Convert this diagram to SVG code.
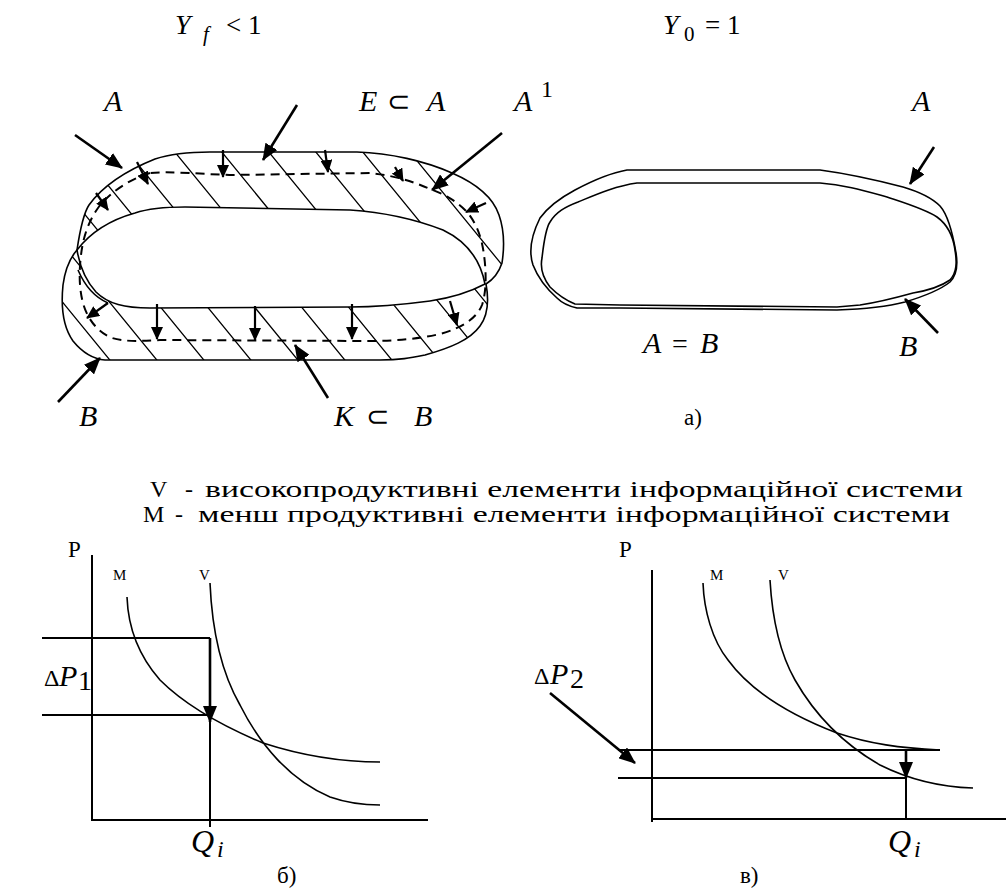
<svg xmlns="http://www.w3.org/2000/svg" width="1006" height="892" viewBox="0 0 1006 892" font-family="Liberation Serif, Times New Roman, serif">
<style>
.ln{fill:none;stroke:#000;stroke-width:1.6}
.th{fill:none;stroke:#000;stroke-width:1.3}
.ds{fill:none;stroke:#000;stroke-width:2;stroke-dasharray:9 6}
.ar{fill:none;stroke:#000;stroke-width:2.6;marker-end:url(#big)}
.sa{fill:none;stroke:#000;stroke-width:2.2;marker-end:url(#small)}
.ax{fill:none;stroke:#000;stroke-width:2}
text{font-family:'Liberation Serif',serif;fill:#000}
.i{font-style:italic}
</style>
<defs>
<marker id="big" markerUnits="userSpaceOnUse" markerWidth="18" markerHeight="14" refX="16" refY="7" orient="auto"><path d="M0,0 L17,7 L0,14 Z" fill="#000"/></marker>
<marker id="small" markerUnits="userSpaceOnUse" markerWidth="14" markerHeight="12" refX="12" refY="6" orient="auto"><path d="M0,0 L13,6 L0,12 Z" fill="#000"/></marker>
<clipPath id="band"><path clip-rule="evenodd" d="M77,250 C80,230 83,214 89,205 C102,187 125,171 155,159 C170,154 185,152 210,152 L357,152 C390,153 425,161 452,173 C475,183 493,197 499,215 C505,232 504,250 502,263 C499,272 494,279 486,284 C489,300 488,315 480,326 C470,340 450,348 425,355 C410,358 400,360 380,360 L105,360 C92,359 82,352 73,341 C63,327 61,305 63,285 C65,270 70,258 77,250 Z M77,250 C90,233 110,220 135,213 C150,208 165,207 185,207 L350,210 C380,212 412,218 443,230 C466,241 480,258 485,284 C468,293 450,298 430,301 C400,305 380,307 350,307 L150,308 C125,308 108,304 96,292 C86,281 80,268 77,250 Z"/></clipPath>
</defs>
<rect width="1006" height="892" fill="#fff"/>

<g id="titles">
<text class="i" x="175" y="34" font-size="28">Y</text>
<text class="i" x="203" y="41" font-size="21">f</text>
<text x="226" y="34" font-size="27">&lt; 1</text>
<text class="i" x="663" y="34" font-size="28">Y</text>
<text x="684" y="41" font-size="21">0</text>
<text x="705" y="34" font-size="27">= 1</text>
</g>

<g id="band-left">
<g clip-path="url(#band)">
<path class="th" d="M-70,140 L118,370 M-23,140 L165,370 M24,140 L212,370 M71,140 L259,370 M118,140 L306,370 M165,140 L353,370 M212,140 L400,370 M259,140 L447,370 M306,140 L494,370 M353,140 L541,370 M400,140 L588,370 M447,140 L635,370"/>
</g>
<path class="ln" d="M77,250 C80,230 83,214 89,205 C102,187 125,171 155,159 C170,154 185,152 210,152 L357,152 C390,153 425,161 452,173 C475,183 493,197 499,215 C505,232 504,250 502,263 C499,272 494,279 486,284 C489,300 488,315 480,326 C470,340 450,348 425,355 C410,358 400,360 380,360 L105,360 C92,359 82,352 73,341 C63,327 61,305 63,285 C65,270 70,258 77,250 Z"/>
<path class="ln" d="M77,250 C90,233 110,220 135,213 C150,208 165,207 185,207 L350,210 C380,212 412,218 443,230 C466,241 480,258 485,284 C468,293 450,298 430,301 C400,305 380,307 350,307 L150,308 C125,308 108,304 96,292 C86,281 80,268 77,250 Z"/>
<path class="ln" d="M78,270 C84,284 94,297 108,303"/>
<path class="ds" d="M150,173 C130,179 110,192 98,208 C88,222 83,238 81,255 C79,272 79,288 83,303 C87,318 97,332 112,338 C125,342 140,341 160,340 L370,341 C395,341 418,339 440,334 C462,328 477,318 482,305 C487,290 486,270 484,255 C482,240 478,226 468,213 C458,202 445,194 430,189 C410,180 390,175 370,173 L230,175 C200,174 170,171 150,173 Z"/>
</g>

<g id="band-labels">
<text class="i" x="104" y="111" font-size="30">A</text>
<text class="i" x="359" y="111" font-size="30">E</text>
<text x="387" y="111" font-size="28">⊂</text>
<text class="i" x="427" y="111" font-size="30">A</text>
<text class="i" x="514" y="111" font-size="30">A</text>
<text x="541" y="97" font-size="24">1</text>
<text class="i" x="79" y="426" font-size="30">B</text>
<text class="i" x="334" y="426" font-size="30">K</text>
<text x="366" y="426" font-size="28">⊂</text>
<text class="i" x="414" y="426" font-size="30">B</text>
</g>

<g id="blob-right">
<path class="ln" d="M627,170 L820,170 C850,174 880,181 903,187 C920,192 932,198 940,206 C948,215 953,235 956,253 C958,265 957,275 950,282 C940,290 925,296 905,302 C890,306 870,309 837,310 L620,308 L577,308 C568,306 562,303 557,298 C548,290 538,278 533,265 C528,250 533,232 540,218 C548,207 560,198 575,190 C590,182 610,173 627,170 Z"/>
<path class="ln" d="M637,183 L820,183 C845,185 865,191 887,197 C905,203 925,209 937,217 C948,225 953,235 955,250 C957,262 957,272 950,280 C940,287 925,291 913,293 C895,298 880,302 860,305 L837,307 L620,305 L575,304 C565,300 557,294 550,287 C543,278 540,268 542,258 C544,240 546,228 550,222 C556,212 565,207 578,202 C595,195 615,186 637,183 Z"/>
<text class="i" x="912" y="111" font-size="30">A</text>
<text class="i" x="899" y="356" font-size="30">B</text>
<text class="i" x="643" y="353" font-size="30">A</text>
<text x="672" y="353" font-size="28">=</text>
<text class="i" x="700" y="353" font-size="30">B</text>
<text x="684" y="425" font-size="23">а)</text>
</g>

<g id="connectors">
<path class="ar" d="M75,135 L122,168"/>
<path class="ar" d="M297,105 L263,160"/>
<path class="ar" d="M502,133 L432,190"/>
<path class="ar" d="M58,402 L100,358"/>
<path class="ar" d="M328,398 L295,345"/>
<path class="ar" d="M934,147 L910,184"/>
<path class="ar" d="M938,333 L905,299"/>
<path class="sa" d="M223,150 L223,177"/>
<path class="sa" d="M325,150 L328,172"/>
<path class="sa" d="M137,162 L148,184"/>
<path class="sa" d="M96,193 L108,210"/>
<path class="sa" d="M395,167 L403,181"/>
<path class="sa" d="M486,203 L466,212"/>
<path class="sa" d="M157,304 L157,339"/>
<path class="sa" d="M255,306 L255,340"/>
<path class="sa" d="M352,304 L352,339"/>
<path class="sa" d="M450,301 L457,325"/>
<path class="sa" d="M108,303 L87,318"/>
<path class="ar" d="M550,693 L635,763"/>
<path class="ar" d="M210,638 L210,722"/>
<path class="ar" d="M906,750 L906,778"/>
</g>

<g id="legend">
<text x="150" y="497" font-size="24">V</text>
<text x="185" y="497" font-size="24">-</text>
<text x="205" y="497" font-size="24" textLength="758" lengthAdjust="spacingAndGlyphs">високопродуктивні елементи інформаційної системи</text>
<text x="143" y="522" font-size="24">M</text>
<text x="175" y="522" font-size="24">-</text>
<text x="198" y="522" font-size="24" textLength="752" lengthAdjust="spacingAndGlyphs">менш продуктивні елементи інформаційної системи</text>
</g>

<g id="graph-b">
<path class="ax" d="M92,555 L92,820 L428,820"/>
<path class="ax" d="M42,638 L210,638 M42,715 L210,715 M210,722 L210,827"/>
<path class="ln" d="M127,597 C128,625 138,655 160,680 C185,705 220,725 263,743 C300,755 340,762 380,762"/>
<path class="ln" d="M210,583 C212,630 220,670 240,705 C260,745 290,780 330,797 C350,804 365,805 380,805"/>
<text x="68" y="557" font-size="23">P</text>
<text x="113" y="580" font-size="15">M</text>
<text x="199" y="580" font-size="15">V</text>
<text x="44" y="686" font-size="24">Δ</text>
<text class="i" x="59" y="686" font-size="30">P</text>
<text x="78" y="690" font-size="28">1</text>
<text class="i" x="191" y="852" font-size="32">Q</text>
<text class="i" x="217" y="857" font-size="24">i</text>
<text x="277" y="883" font-size="23">б)</text>
</g>

<g id="graph-c">
<path class="ax" d="M652,570 L652,822 M652,819 L1006,819"/>
<path class="ax" d="M618,750 L940,750 M618,778 L906,778 M906,778 L906,818"/>
<path class="ln" d="M703,583 C704,610 712,640 728,660 C750,690 790,715 837,733 C870,744 900,748 940,750"/>
<path class="ln" d="M770,580 C772,615 778,650 795,680 C815,715 845,745 880,765 C910,780 940,787 973,788"/>
<text x="619" y="557" font-size="23">P</text>
<text x="710" y="580" font-size="15">M</text>
<text x="778" y="580" font-size="15">V</text>
<text x="534" y="684" font-size="24">Δ</text>
<text class="i" x="550" y="684" font-size="30">P</text>
<text x="570" y="688" font-size="28">2</text>
<text class="i" x="888" y="852" font-size="32">Q</text>
<text class="i" x="914" y="857" font-size="24">i</text>
<text x="740" y="883" font-size="23">в)</text>
</g>
</svg>
